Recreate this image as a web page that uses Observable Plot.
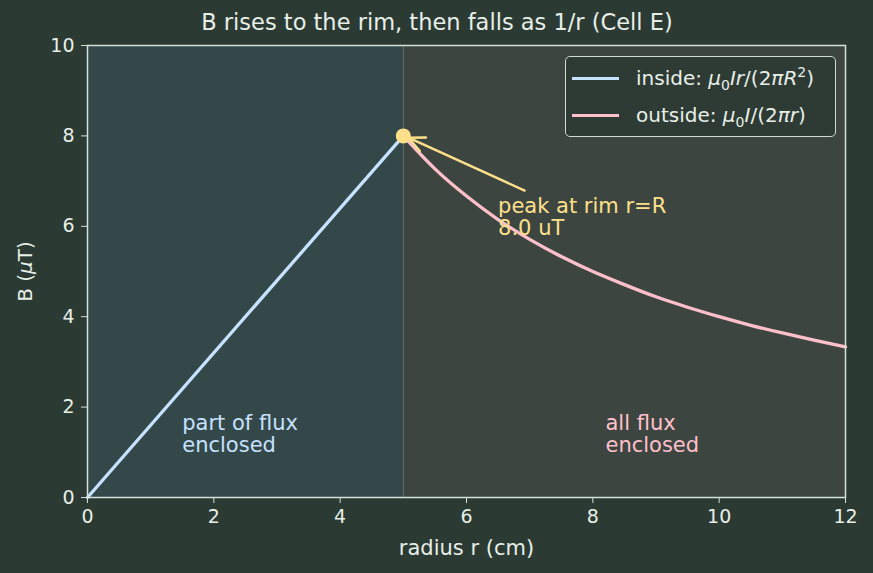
<!DOCTYPE html>
<html>
<head>
<meta charset="utf-8">
<script src="https://cdn.jsdelivr.net/npm/d3@7"></script>
<script src="https://cdn.jsdelivr.net/npm/@observablehq/plot@0.6"></script>
<style>
  html, body { margin: 0; padding: 0; background: #2b3a33; }
  #wrap { position: relative; width: 873px; height: 573px; background: #2b3a33; font-family: "DejaVu Sans", sans-serif; }
  #legend { position: absolute; left: 565px; top: 56px; width: 271px; height: 81px; box-sizing: border-box;
    border: 1.5px solid #cfdcd2; border-radius: 5px; background: rgba(43,58,51,0.85); color: #e8efe8; font-size: 20px; }
  .item { position: absolute; left: 6px; display: flex; align-items: center; white-space: nowrap; }
  .sw { width: 47px; height: 3px; margin-right: 17px; }
  sub, sup { font-size: 70%; line-height: 0; }
  i { font-style: italic; }
</style>
</head>
<body>
<div id="wrap"></div>
<script>
// ---- data ----
const titleText = "B rises to the rim, then falls as 1/r (Cell E)";
const xLabel = "radius r (cm)";
const xTicks = [0, 2, 4, 6, 8, 10, 12];
const yTicks = [0, 2, 4, 6, 8, 10];
const insideR = [0, 5];
const insideB = [0, 8];
const outsideR = [5, 5.5, 6, 6.5, 7, 7.5, 8, 8.5, 9, 9.5, 10, 10.5, 11, 11.5, 12];
const outsideB = [8.0, 7.27, 6.67, 6.15, 5.71, 5.33, 5.0, 4.71, 4.44, 4.21, 4.0, 3.81, 3.64, 3.48, 3.33];
const rimR = 5;
const peak = {r: 5, B: 8};
const arrowFrom = {r: 6.92, B: 6.79};
const arrowTo = {r: 5.08, B: 7.96};
const peakLabel = {r: 6.5, B: 5.8, text: "peak at rim r=R\n8.0 uT"};
const regionNames = ["inside", "outside"];
const regionStart = [0, 5];
const regionEnd = [5, 12];
const regionLabels = ["part of flux\nenclosed", "all flux\nenclosed"];
const regionLabelR = [1.5, 8.2];
const regionLabelB = [1.0, 1.0];

// ---- tables ----
const inside = insideR.map((r, i) => ({r, B: insideB[i]}));
const outside = outsideR.map((r, i) => ({r, B: outsideB[i]}));
const regions = regionNames.map((name, i) => ({name, x1: regionStart[i], x2: regionEnd[i]}));
const regionText = regionNames.map((name, i) => ({name, r: regionLabelR[i], B: regionLabelB[i], text: regionLabels[i]}));

const fg = "#e8efe8";
const spine = "#d4e2d8";
const blue = "#c6e2ff";
const pink = "#ffc0cb";
const gold = "#ffe08a";

const chart = Plot.plot({
  width: 873, height: 573,
  marginLeft: 87, marginRight: 28, marginTop: 45, marginBottom: 76,
  style: {background: "transparent", color: fg, fontFamily: "DejaVu Sans, sans-serif", fontSize: "19px"},
  x: {domain: [0, 12]},
  y: {domain: [0, 10]},
  marks: [
    Plot.rect(regions, {x1: "x1", x2: "x2", fill: d => d.name === "inside" ? "#34484a" : "#3d4540"}),
    Plot.ruleX([rimR], {stroke: "#7d8c83", strokeOpacity: 0.6, strokeWidth: 1}),
    Plot.line(inside, {x: "r", y: "B", stroke: blue, strokeWidth: 3.3}),
    Plot.line(outside, {x: "r", y: "B", stroke: pink, strokeWidth: 3.3, curve: "natural"}),
    Plot.arrow([{}], {x1: () => arrowFrom.r, y1: () => arrowFrom.B, x2: () => arrowTo.r, y2: () => arrowTo.B,
      stroke: gold, strokeWidth: 2.4, headLength: 11, headAngle: 50, bend: 0}),
    Plot.dot([peak], {x: "r", y: "B", r: 7.5, fill: gold, stroke: "none"}),
    Plot.text([peakLabel], {x: "r", y: "B", text: "text", fill: gold, textAnchor: "start", lineAnchor: "bottom", fontSize: 21, lineHeight: 1.05}),
    Plot.text(regionText, {x: "r", y: "B", text: "text", fill: d => d.name === "inside" ? blue : pink, textAnchor: "start", lineAnchor: "bottom", fontSize: 21, lineHeight: 1.05}),
    Plot.frame({stroke: spine, strokeWidth: 1.5}),
    Plot.axisX({ticks: xTicks, tickSize: 6, tickPadding: 6, stroke: spine, label: null, fontSize: 19}),
    Plot.axisY({ticks: yTicks, tickSize: 6, tickPadding: 7, stroke: spine, label: null, fontSize: 19}),
    Plot.text([xLabel], {frameAnchor: "bottom", lineAnchor: "middle", dy: 51, fontSize: 21, fill: fg}),
    Plot.text(["B (μT)"], {frameAnchor: "left", rotate: -90, textAnchor: "middle", lineAnchor: "middle", dx: -62, fontSize: 20, fill: fg, className: "ylabel"}),
    Plot.text([titleText], {frameAnchor: "top", lineAnchor: "middle", dy: -23, dx: -29.5, fontSize: 22.5, fill: fg})
  ]
});
document.getElementById("wrap").appendChild(chart);

// italic mu in y label
const yl = chart.querySelector(".ylabel text");
if (yl) {
  yl.textContent = "";
  const parts = [["B (", "normal"], ["μ", "italic"], ["T)", "normal"]];
  for (const [t, s] of parts) {
    const ts = document.createElementNS("http://www.w3.org/2000/svg", "tspan");
    ts.textContent = t; ts.setAttribute("font-style", s); yl.appendChild(ts);
  }
}

// legend
const legend = document.createElement("div");
legend.id = "legend";
legend.innerHTML = `
  <div class="item" style="top:9px"><div class="sw" style="background:${blue}"></div><span>inside: <i>μ</i><sub>0</sub><i>Ir</i>/(2<i>π</i><i>R</i><sup>2</sup>)</span></div>
  <div class="item" style="top:46px"><div class="sw" style="background:${pink}"></div><span>outside: <i>μ</i><sub>0</sub><i>I</i>/(2<i>πr</i>)</span></div>`;
document.getElementById("wrap").appendChild(legend);
</script>
</body>
</html>
